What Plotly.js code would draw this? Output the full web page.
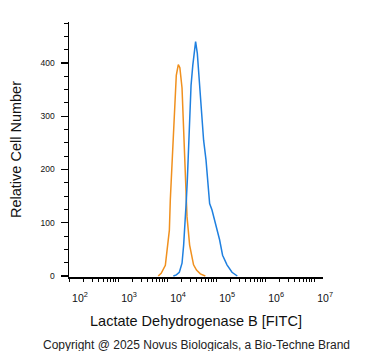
<!DOCTYPE html>
<html>
<head>
<meta charset="utf-8">
<script src="https://cdn.plot.ly/plotly-3.0.1.min.js"></script>
<style>html,body{margin:0;padding:0;background:#fff;}#chart{width:371px;height:351px;}</style>
</head>
<body>
<div id="chart"></div>
<script>
// Isotype control (orange): log10 fluorescence and cell counts
const isoLog = [3.82, 3.88, 3.965, 4.012, 4.047, 4.066, 4.101, 4.133, 4.154, 4.188, 4.229, 4.261, 4.305, 4.326, 4.338, 4.393, 4.407, 4.46, 4.54, 4.60, 4.678, 4.78];
const isoCount = [0, 5, 20, 58, 86, 143, 212, 283, 336, 377, 397, 391, 353, 293, 274, 143, 111, 58, 21, 11, 4, 0];
// LDHB antibody (blue)
const abLog = [4.128, 4.189, 4.25, 4.305, 4.338, 4.373, 4.393, 4.413, 4.44, 4.46, 4.489, 4.525, 4.556, 4.582, 4.617, 4.658, 4.713, 4.745, 4.794, 4.821, 4.847, 4.868, 4.916, 4.984, 5.071, 5.132, 5.222, 5.324, 5.432];
const abCount = [0, 2, 7, 24, 58, 105, 143, 180, 255, 293, 358, 396, 426, 440, 418, 368, 293, 255, 218, 189, 171, 136, 124, 101, 68, 39, 21, 7, 0];
const xTickVals = [1e2, 1e3, 1e4, 1e5, 1e6, 1e7];
const xTickText = ['10<sup>2</sup>', '10<sup>3</sup>', '10<sup>4</sup>', '10<sup>5</sup>', '10<sup>6</sup>', '10<sup>7</sup>'];
const yTickVals = [0, 100, 200, 300, 400];

const toLin = a => a.map(v => Math.pow(10, v));
const font = 'Liberation Sans, Arial, sans-serif';

// all ticks: decades (labelled) plus 2..9 minor steps (unlabelled)
const allTickVals = [], allTickText = [];
for (let d = 2; d <= 7; d++) {
  for (let m = 1; m <= 9; m++) {
    const v = m * Math.pow(10, d);
    if (Math.log10(v) >= 7.18) continue;
    allTickVals.push(v);
    allTickText.push(m === 1 ? xTickText[xTickVals.indexOf(v)] : '');
  }
}
// longer marks at the decades (shape x in log units on a log axis)
const majorShapes = xTickVals.map(v => ({
  type: 'line', xref: 'x', yref: 'paper', ysizemode: 'pixel', yanchor: 0,
  x0: Math.log10(v), x1: Math.log10(v), y0: 0, y1: -6.5, line: {color: '#000', width: 1.5}
}));

const traces = [
  {x: toLin(isoLog), y: isoCount, type: 'scatter', mode: 'lines', line: {color: '#f0901e', width: 1.5}, hoverinfo: 'skip'},
  {x: toLin(abLog), y: abCount, type: 'scatter', mode: 'lines', line: {color: '#1f80e0', width: 1.5}, hoverinfo: 'skip'}
];

const layout = {
  width: 371, height: 351,
  margin: {l: 69, r: 48, t: 22, b: 74, pad: 0},
  paper_bgcolor: '#fff', plot_bgcolor: '#fff',
  showlegend: false,
  font: {family: font, color: '#111'},
  xaxis: {
    type: 'log', range: [2, 7.18],
    tickmode: 'array', tickvals: allTickVals, ticktext: allTickText,
    ticks: 'outside', ticklen: 3.5, tickwidth: 1, tickcolor: '#000',
    showline: true, linecolor: '#000', linewidth: 1.5,
    showgrid: false, zeroline: false,
    tickfont: {size: 10.5, family: font, color: '#111'},
    ticklabelshift: 11,
    ticklabelstandoff: 7,
    title: {text: 'Lactate Dehydrogenase B [FITC]', font: {size: 14.5, family: font, color: '#111'}, standoff: 13}
  },
  yaxis: {
    range: [-1.9, 477],
    tickmode: 'array', tickvals: yTickVals,
    ticks: 'outside', ticklen: 7, tickwidth: 1.5, tickcolor: '#000',
    minor: {ticks: 'outside', ticklen: 3.5, tickwidth: 1, tickcolor: '#000', dtick: 25, showgrid: false},
    showline: true, linecolor: '#000', linewidth: 1.5,
    showgrid: false, zeroline: false,
    tickfont: {size: 8.5, family: font, color: '#111'},
    ticklabelstandoff: 4,
    title: {text: 'Relative Cell Number', font: {size: 14.5, family: font, color: '#111'}, standoff: 15}
  },
  shapes: majorShapes,
  annotations: [{
    text: 'Copyright @ 2025 Novus Biologicals, a Bio-Techne Brand',
    xref: 'paper', yref: 'paper', x: 0.5, y: -0.268, xanchor: 'center', yanchor: 'middle',
    showarrow: false, font: {size: 12, family: font, color: '#222'}
  }]
};

Plotly.newPlot('chart', traces, layout, {staticPlot: true, displayModeBar: false});
</script>
</body>
</html>
